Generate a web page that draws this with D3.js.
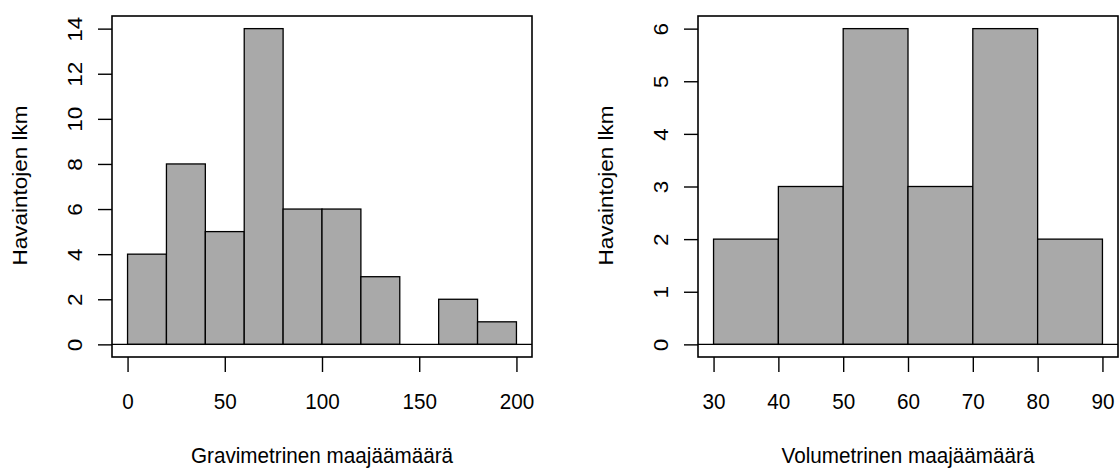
<!DOCTYPE html>
<html>
<head>
<meta charset="utf-8">
<script src="https://cdn.jsdelivr.net/npm/d3@7"></script>
<style>
  html, body { margin: 0; padding: 0; background: #fff; }
  svg { display: block; }
  text { font-family: "Liberation Sans", Arial, sans-serif; fill: #000; }
</style>
</head>
<body>
<svg id="chart" width="1119" height="468"></svg>
<script>
// ---- Data ----
const gravBreaks = [0, 20, 40, 60, 80, 100, 120, 140, 160, 180, 200];
const gravCounts = [4, 8, 5, 14, 6, 6, 3, 0, 2, 1];
const gravXTicks = [0, 50, 100, 150, 200];
const gravYTicks = [0, 2, 4, 6, 8, 10, 12, 14];
const gravXLabel = "Gravimetrinen maajäämäärä";

const volBreaks = [30, 40, 50, 60, 70, 80, 90];
const volCounts = [2, 3, 6, 3, 6, 2];
const volXTicks = [30, 40, 50, 60, 70, 80, 90];
const volYTicks = [0, 1, 2, 3, 4, 5, 6];
const volXLabel = "Volumetrinen maajäämäärä";

const yLabel = "Havaintojen lkm";

// ---- Drawing ----
const svg = d3.select("#chart");
const fontSize = 22.5;
const sx = 0.92; // horizontal squeeze of the reference rendering

function histPanel(offsetX, breaks, counts, xTicks, yTicks, xLabel) {
  const left = 112 + offsetX, right = 532 + offsetX, top = 16, bottom = 357;
  const xmin = breaks[0], xmax = breaks[breaks.length - 1];
  const xpad = (xmax - xmin) * 0.04;
  const ymax = d3.max(yTicks);
  const ypad = ymax * 0.04;
  const x = d3.scaleLinear().domain([xmin - xpad, xmax + xpad]).range([left, right]);
  const y = d3.scaleLinear().domain([-ypad, ymax + ypad]).range([bottom, top]);

  const g = svg.append("g");
  const bins = counts.map((c, i) => ({ x0: breaks[i], x1: breaks[i + 1], c }));

  g.selectAll("rect.bar").data(bins).enter().append("rect")
    .attr("class", "bar")
    .attr("x", d => x(d.x0))
    .attr("y", d => y(d.c))
    .attr("width", d => x(d.x1) - x(d.x0))
    .attr("height", d => y(0) - y(d.c))
    .attr("fill", "#a9a9a9")
    .attr("stroke", "#000")
    .attr("stroke-width", 1.3);

  // baseline at zero
  g.append("line")
    .attr("x1", left).attr("x2", right)
    .attr("y1", y(0)).attr("y2", y(0))
    .attr("stroke", "#000").attr("stroke-width", 1.4);

  // box
  g.append("rect")
    .attr("x", left).attr("y", top)
    .attr("width", right - left).attr("height", bottom - top)
    .attr("fill", "none").attr("stroke", "#000").attr("stroke-width", 1.6);

  // x axis
  const xAxis = d3.axisBottom(x).tickValues(xTicks).tickSize(15).tickPadding(0).tickFormat(d3.format("d"));
  const xg = g.append("g").attr("transform", `translate(0,${bottom})`).call(xAxis);
  xg.select(".domain").remove();
  xg.selectAll(".tick line").attr("stroke", "#000").attr("stroke-width", 1.4);
  xg.selectAll(".tick text")
    .attr("y", null).attr("dy", null)
    .attr("transform", `translate(0,52) scale(${sx},1)`)
    .style("font-size", fontSize + "px")
    .style("font-family", '"Liberation Sans", Arial, sans-serif')
    .attr("fill", "#000");

  // y axis
  const yAxis = d3.axisLeft(y).tickValues(yTicks).tickSize(14).tickPadding(0).tickFormat(d3.format("d"));
  const yg = g.append("g").attr("transform", `translate(${left},0)`).call(yAxis);
  yg.select(".domain").remove();
  yg.selectAll(".tick line").attr("stroke", "#000").attr("stroke-width", 1.4);
  yg.selectAll(".tick text")
    .attr("x", null).attr("dy", null)
    .attr("text-anchor", "middle")
    .attr("transform", `translate(-30,0) scale(${sx},1) rotate(-90)`)
    .style("font-size", fontSize + "px")
    .style("font-family", '"Liberation Sans", Arial, sans-serif')
    .attr("fill", "#000");

  // axis titles
  g.append("text")
    .attr("transform", `translate(${(left + right) / 2},463) scale(${sx},1)`)
    .attr("text-anchor", "middle")
    .style("font-size", fontSize + "px")
    .text(xLabel);

  g.append("text")
    .attr("transform", `translate(${26.7 + offsetX},${(top + bottom) / 2 - 1}) scale(${sx},1) rotate(-90)`)
    .attr("text-anchor", "middle")
    .style("font-size", fontSize + "px")
    .text(yLabel);
}

histPanel(0, gravBreaks, gravCounts, gravXTicks, gravYTicks, gravXLabel);
histPanel(586, volBreaks, volCounts, volXTicks, volYTicks, volXLabel);
</script>
</body>
</html>
